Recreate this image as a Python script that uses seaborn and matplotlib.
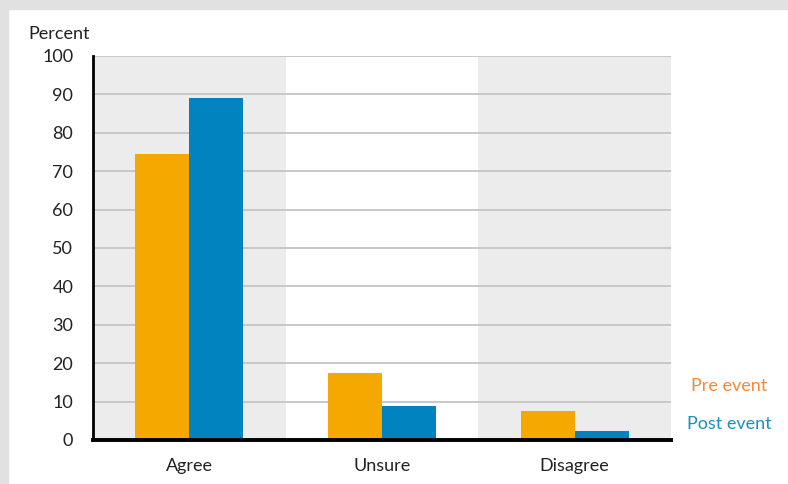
import matplotlib
matplotlib.use("Agg")
import matplotlib.pyplot as plt
import seaborn as sns
import pandas as pd
from matplotlib.patches import Rectangle

categories = ["Agree", "Unsure", "Disagree"]
pre_event = [74.5, 17.5, 7.6]
post_event = [89.1, 8.9, 2.4]
series_names = ["Pre event", "Post event"]
y_ticks = [0, 10, 20, 30, 40, 50, 60, 70, 80, 90, 100]

df = pd.DataFrame({
    "cat": categories * 2,
    "val": pre_event + post_event,
    "period": [series_names[0]] * 3 + [series_names[1]] * 3,
})

sns.set_style("white")
plt.rcParams['font.family'] = ['Lato', 'DejaVu Sans']

W, H = 788, 484
fig = plt.figure(figsize=(W / 100, H / 100), dpi=100, facecolor="white")
# grey frame strips
fig.patches.append(Rectangle((0, 1 - 9 / H), 1, 9 / H, transform=fig.transFigure,
                             color="#e1e1e1", zorder=0))
fig.patches.append(Rectangle((0, 0), 8 / W, 1, transform=fig.transFigure,
                             color="#e1e1e1", zorder=0))

ax = fig.add_axes([93 / W, 44 / H, (671 - 93) / W, (440 - 56) / H])
ax.set_facecolor("none")

# category background bands
for i in range(len(categories)):
    if i % 2 == 0:
        ax.axvspan(i - 0.5, i + 0.5, color="#ececec", zorder=0, lw=0)

sns.barplot(data=df, x="cat", y="val", hue="period",
            palette=["#f5a800", "#0083be"], width=0.56, saturation=1,
            gap=0, legend=False, ax=ax, zorder=3, linewidth=0, edgecolor="none")

ax.set_xlim(-0.5, 2.5)
ax.set_ylim(0, 100)
ax.set_yticks(y_ticks)
ax.set_xlabel("")
ax.set_ylabel("")
ax.yaxis.grid(True, color="#c8c8c8", lw=1.4, zorder=1)
ax.set_axisbelow(True)

for s in ["top", "right"]:
    ax.spines[s].set_visible(False)
ax.spines["left"].set_color("black")
ax.spines["left"].set_linewidth(2.0)
ax.spines["bottom"].set_color("black")
ax.spines["bottom"].set_linewidth(2.8)
ax.spines["left"].set_zorder(5)
ax.spines["bottom"].set_zorder(5)

ax.tick_params(axis="y", length=7.2, width=1.0, color="#c8c8c8", direction="out",
               pad=7, labelsize=13, labelcolor="#222222")
ax.tick_params(axis="x", length=0, pad=13, labelsize=13, labelcolor="#222222")
ax.set_xticks([0.5, 1.5, 2.5], minor=True)
ax.tick_params(axis="x", which="minor", length=8, width=1.0, color="#c8c8c8",
               direction="inout")

fig.text(28 / W, 1 - 34 / H, "Percent", ha="left", va="center", fontsize=13,
         color="#222222")
fig.text(729 / W, 1 - 386 / H, series_names[0], ha="center", va="center",
         fontsize=13, color="#f5883a")
fig.text(729 / W, 1 - 424 / H, series_names[1], ha="center", va="center",
         fontsize=13, color="#1a8fc6")

fig.savefig("out.png", dpi=100, facecolor="white")
